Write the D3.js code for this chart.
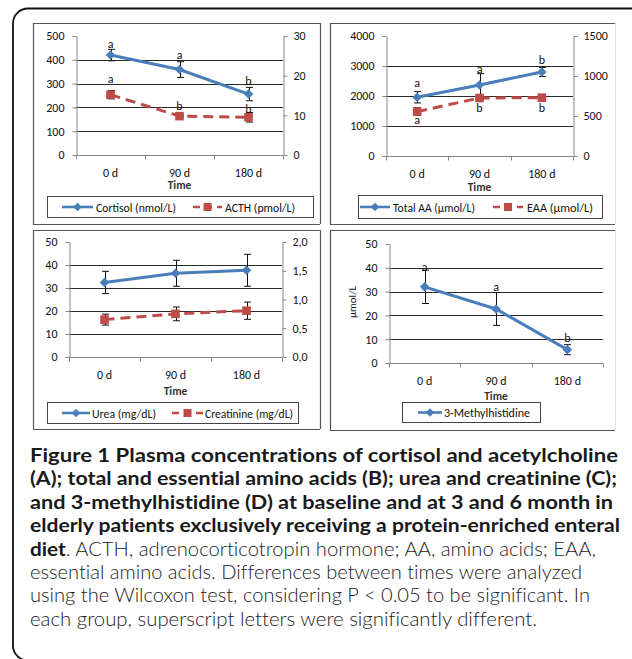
<!DOCTYPE html>
<html><head><meta charset="utf-8">
<script src="https://cdn.jsdelivr.net/npm/d3@7"></script>
<style>
html,body{margin:0;padding:0;background:#fff;}
svg{display:block;}
</style></head>
<body>
<svg id="chart" width="632" height="659"></svg>
<script>
// ---------------- DATA ----------------
const categories = ["0 d", "90 d", "180 d"];

const cortisol = [420, 359, 256];
const cortisolErr = [24, 33, 28];
const cortisolLetters = ["a", "a", "b"];
const cortisolLetterAt = [466, 420, 311];
const acth = [15.2, 9.8, 9.5];
const acthErr = [1.05, 0.3, 1.2];
const acthLetters = ["a", "b", "b"];
const acthLetterAt = [19.2, 12.4, 11.6];
const panelATicksLeft = [0, 100, 200, 300, 400, 500];
const panelATicksRight = [0, 10, 20, 30];

const totalAA = [1957, 2367, 2800];
const totalAAErr = [188, 378, 150];
const totalAALetters = ["a", "a", "b"];
const totalAALetterAt = [2443, 2900, 3200];
const eaa = [555, 725, 729];
const eaaErr = [48, 10, 10];
const eaaLetters = ["a", "b", "b"];
const eaaLetterAt = [450, 600, 600];
const panelBTicksLeft = [0, 1000, 2000, 3000, 4000];
const panelBTicksRight = [0, 500, 1000, 1500];

const urea = [32.4, 36.4, 37.7];
const ureaErr = [4.85, 5.65, 6.95];
const creatinine = [0.65, 0.75, 0.805];
const creatinineErr = [0.095, 0.12, 0.15];
const panelCTicksLeft = [0, 10, 20, 30, 40, 50];
const panelCTicksRight = [0, 0.5, 1, 1.5, 2];
const panelCTickLabelsRight = ["0,0", "0,5", "1,0", "1,5", "2,0"];

const methylhistidine = [32, 22.7, 5.6];
const methylhistidineErr = [7, 6.9, 2.1];
const methylhistidineLetters = ["a", "a", "b"];
const methylhistidineLetterAt = [40.5, 32.1, 10.5];
const panelDTicksLeft = [0, 10, 20, 30, 40, 50];

const captionBold = [
  "Figure 1 Plasma concentrations of cortisol and acetylcholine",
  "(A); total and essential amino acids (B); urea and creatinine (C);",
  "and 3-methylhistidine (D) at baseline and at 3 and 6 month in",
  "elderly patients exclusively receiving a protein-enriched enteral"
];
const captionMixedBold = "diet";
const captionMixedRest = ". ACTH, adrenocorticotropin hormone; AA, amino acids; EAA,";
const captionRegular = [
  "essential amino acids. Differences between times were analyzed",
  "using the Wilcoxon test, considering P < 0.05 to be significant. In",
  "each group, superscript letters were significantly different."
];

// ---------------- STYLE ----------------
const BLUE = "#4A7EBB", RED = "#BE4B48";
const FONT = "Carlito, Calibri, Lato, 'Open Sans', sans-serif";
const TXT = "#111";
const svg = d3.select("#chart");
svg.append("rect").attr("width", 632).attr("height", 659).attr("fill", "#fff");

// outer frame
svg.append("rect").attr("x", 13).attr("y", 8.5).attr("width", 640).attr("height", 652)
  .attr("rx", 15).attr("fill", "none").attr("stroke", "#111").attr("stroke-width", 1.8);

function diamond(g, cx, cy, r, color) {
  g.append("path").attr("d", `M${cx},${cy - r}L${cx + r},${cy}L${cx},${cy + r}L${cx - r},${cy}Z`).attr("fill", color);
}
function square(g, cx, cy, r, color) {
  g.append("rect").attr("x", cx - r).attr("y", cy - r).attr("width", 2 * r).attr("height", 2 * r).attr("fill", color);
}

function drawPanel(cfg) {
  const g = svg.append("g").style("font-family", FONT);
  const [bx0, by0, bx1, by1] = cfg.box;
  g.append("path").attr("d", `M${bx1},${by0 + 0.5}H${bx0 + 0.5}V${by1 + 0.5}H${bx1}`)
    .attr("fill", "none").attr("stroke", "#555").attr("stroke-width", 1.2);
  g.append("line").attr("x1", bx1 + 0.5).attr("x2", bx1 + 0.5).attr("y1", by0).attr("y2", by1)
    .attr("stroke", cfg.rightBorder).attr("stroke-width", 1.2);

  const p = cfg.plot;
  const x = d3.scaleBand().domain(categories).range([p.l, p.r]);
  const yL = d3.scaleLinear().domain(cfg.leftDomain).range([p.b, p.t]);
  const yR = cfg.rightDomain ? d3.scaleLinear().domain(cfg.rightDomain).range([p.b, p.t]) : null;

  g.selectAll(".grid").data(cfg.leftTicks.slice(1, -1)).enter().append("line")
    .attr("x1", p.l).attr("x2", p.r)
    .attr("y1", d => Math.round(yL(d)) + 0.5).attr("y2", d => Math.round(yL(d)) + 0.5)
    .attr("stroke", "#2a2a2a").attr("stroke-width", 1);

  const la = g.append("g").attr("transform", `translate(${Math.round(p.l) + 0.5},0)`)
    .call(d3.axisLeft(yL).tickValues(cfg.leftTicks).tickSize(4).tickSizeOuter(0).tickPadding(8)
      .tickFormat(d3.format("d")));
  let ra = null;
  if (yR) {
    ra = g.append("g").attr("transform", `translate(${Math.round(p.r) + 0.5},0)`)
      .call(d3.axisRight(yR).tickValues(cfg.rightTicks).tickSize(4).tickSizeOuter(0).tickPadding(6)
        .tickFormat((d, i) => cfg.rightLabels ? cfg.rightLabels[i] : d3.format("d")(d)));
  }
  [la, ra].forEach(a => {
    if (!a) return;
    a.select(".domain").attr("stroke", "#868686");
    a.selectAll(".tick line").attr("stroke", "#868686");
    a.selectAll(".tick text").attr("fill", TXT).style("font-size", "12px").style("font-family", FONT);
  });

  const y0 = Math.round(yL(0)) + 0.5;
  g.append("line").attr("x1", p.l).attr("x2", p.r).attr("y1", y0).attr("y2", y0).attr("stroke", "#868686");
  const bounds = categories.map(c => x(c)).concat([x.range()[1]]);
  g.selectAll(".xt").data(bounds).enter().append("line")
    .attr("x1", d => Math.round(d) + 0.5).attr("x2", d => Math.round(d) + 0.5)
    .attr("y1", y0).attr("y2", y0 + 4).attr("stroke", "#868686");
  g.selectAll(".xl").data(categories).enter().append("text")
    .attr("x", d => x(d) + x.bandwidth() / 2).attr("y", y0 + 21)
    .attr("text-anchor", "middle").style("font-size", "12px").attr("fill", TXT).text(d => d);
  g.append("text").attr("x", (p.l + p.r) / 2).attr("y", cfg.timeY)
    .attr("text-anchor", "middle").style("font-size", "11.5px").style("font-weight", "bold").attr("fill", "#333").text("Time");

  if (cfg.yTitle) {
    g.append("text").attr("transform", `translate(${cfg.yTitle.x},${cfg.yTitle.y}) rotate(-90)`)
      .attr("text-anchor", "middle").style("font-size", "11px").attr("fill", TXT).text(cfg.yTitle.text);
  }

  cfg.series.forEach(s => {
    const ys = s.axis === "right" ? yR : yL;
    const cx = i => x(categories[i]) + x.bandwidth() / 2;
    const line = d3.line().x((d, i) => cx(i)).y(d => ys(d));
    g.append("path").attr("d", line(s.values)).attr("fill", "none")
      .attr("stroke", s.color).attr("stroke-width", 3)
      .attr("stroke-dasharray", s.dashed ? "10,6" : null);
    s.values.forEach((v, i) => {
      const e = s.err[i];
      const xc = Math.round(cx(i)) + 0.5;
      const yt = ys(v + e), yb = ys(v - e);
      const eg = g.append("g").attr("stroke", "#111").attr("stroke-width", 1);
      eg.append("line").attr("x1", xc).attr("x2", xc).attr("y1", yt).attr("y2", yb);
      eg.append("line").attr("x1", xc - 3.5).attr("x2", xc + 3.5).attr("y1", yt).attr("y2", yt);
      eg.append("line").attr("x1", xc - 3.5).attr("x2", xc + 3.5).attr("y1", yb).attr("y2", yb);
    });
    s.values.forEach((v, i) => {
      if (s.marker === "diamond") diamond(g, cx(i), ys(v), 4.8, s.color);
      else square(g, cx(i), ys(v), 4.3, s.color);
    });
    if (s.letters) {
      s.letters.forEach((l, i) => {
        g.append("text").attr("x", cx(i)).attr("y", ys(s.letterAt[i]) + 4)
          .attr("text-anchor", "middle").style("font-size", "12px").attr("fill", TXT).text(l);
      });
    }
  });

  const L = cfg.legend;
  g.append("rect").attr("x", L.box[0] + 0.5).attr("y", L.box[1] + 0.5)
    .attr("width", L.box[2] - L.box[0]).attr("height", L.box[3] - L.box[1])
    .attr("fill", "#fff").attr("stroke", "#444").attr("stroke-width", 1);
  const ly = (L.box[1] + L.box[3]) / 2 + 0.5;
  L.items.forEach((it, k) => {
    const s = cfg.series[k];
    g.append("line").attr("x1", it.x0).attr("x2", it.x1).attr("y1", ly).attr("y2", ly)
      .attr("stroke", s.color).attr("stroke-width", 2.6)
      .attr("stroke-dasharray", s.dashed ? "7,5" : null);
    const mx = (it.x0 + it.x1) / 2;
    if (s.marker === "diamond") diamond(g, mx, ly, 4.3, s.color);
    else square(g, mx, ly, 4, s.color);
    g.append("text").attr("x", it.tx).attr("y", ly + 4.5).style("font-size", "12.5px").attr("fill", TXT)
      .attr("textLength", it.tw).attr("lengthAdjust", "spacingAndGlyphs").text(s.name);
  });
}

drawPanel({
  box: [33, 23, 320, 224], rightBorder: "#555",
  plot: { l: 76, r: 283, t: 36, b: 155 },
  leftDomain: [0, 500], leftTicks: panelATicksLeft,
  rightDomain: [0, 30], rightTicks: panelATicksRight,
  timeY: 189,
  series: [
    { name: "Cortisol (nmol/L)", values: cortisol, err: cortisolErr, color: BLUE, marker: "diamond", axis: "left", letters: cortisolLetters, letterAt: cortisolLetterAt },
    { name: "ACTH (pmol/L)", values: acth, err: acthErr, color: RED, marker: "square", dashed: true, axis: "right", letters: acthLetters, letterAt: acthLetterAt }
  ],
  legend: { box: [47, 196, 313, 217], items: [{ x0: 62, x1: 93, tx: 96, tw: 80 }, { x0: 193, x1: 222, tx: 225, tw: 70 }] }
});

drawPanel({
  box: [330, 23, 615, 224], rightBorder: "#e4e4e4",
  plot: { l: 386, r: 573, t: 36, b: 156 },
  leftDomain: [0, 4000], leftTicks: panelBTicksLeft,
  rightDomain: [0, 1500], rightTicks: panelBTicksRight,
  timeY: 191,
  series: [
    { name: "Total AA (µmol/L)", values: totalAA, err: totalAAErr, color: BLUE, marker: "diamond", axis: "left", letters: totalAALetters, letterAt: totalAALetterAt },
    { name: "EAA (µmol/L)", values: eaa, err: eaaErr, color: RED, marker: "square", dashed: true, axis: "right", letters: eaaLetters, letterAt: eaaLetterAt }
  ],
  legend: { box: [358, 195, 602, 218], items: [{ x0: 360, x1: 390, tx: 393, tw: 82 }, { x0: 493, x1: 523, tx: 527, tw: 66 }] }
});

drawPanel({
  box: [33, 230, 320, 429], rightBorder: "#555",
  plot: { l: 69, r: 282, t: 242, b: 357 },
  leftDomain: [0, 50], leftTicks: panelCTicksLeft,
  rightDomain: [0, 2], rightTicks: panelCTicksRight, rightLabels: panelCTickLabelsRight,
  timeY: 395,
  series: [
    { name: "Urea (mg/dL)", values: urea, err: ureaErr, color: BLUE, marker: "diamond", axis: "left" },
    { name: "Creatinine (mg/dL)", values: creatinine, err: creatinineErr, color: RED, marker: "square", dashed: true, axis: "right" }
  ],
  legend: { box: [47, 402, 298, 423], items: [{ x0: 62, x1: 90, tx: 92, tw: 64 }, { x0: 172, x1: 203, tx: 205, tw: 88 }] }
});

drawPanel({
  box: [330, 230, 615, 430], rightBorder: "#e4e4e4",
  plot: { l: 389, r: 603, t: 244, b: 363 },
  leftDomain: [0, 50], leftTicks: panelDTicksLeft,
  timeY: 400,
  yTitle: { x: 356, y: 302, text: "µmol/L" },
  series: [
    { name: "3-Methylhistidine", values: methylhistidine, err: methylhistidineErr, color: BLUE, marker: "diamond", axis: "left", letters: methylhistidineLetters, letterAt: methylhistidineLetterAt }
  ],
  legend: { box: [402, 402, 540, 422], items: [{ x0: 418, x1: 442, tx: 444, tw: 86 }] }
});

// ---------------- CAPTION ----------------
const CAPFONT = "Lato, 'Open Sans', 'Noto Sans', sans-serif";
const cap = svg.append("g").style("font-family", CAPFONT).style("font-variant-ligatures", "none");
const capX = 30, capY0 = 462, capDy = 23.4;
const boldEnds = [618, 617, 613, 620];
const mixedEnd = 596;
const regEnds = [582, 590, 537];

captionBold.forEach((t, i) => {
  cap.append("text").attr("x", capX).attr("y", capY0 + i * capDy)
    .attr("textLength", boldEnds[i] - capX).attr("lengthAdjust", "spacingAndGlyphs")
    .style("font-size", "19.5px").style("font-weight", "bold").attr("fill", "#1a1a1a").text(t);
});
const mixed = cap.append("text").attr("x", capX).attr("y", capY0 + 4 * capDy)
  .attr("textLength", mixedEnd - capX).attr("lengthAdjust", "spacingAndGlyphs");
mixed.append("tspan").style("font-size", "19.5px").style("font-weight", "bold").attr("fill", "#1a1a1a").text(captionMixedBold);
mixed.append("tspan").style("font-size", "19px").style("font-weight", "300").attr("fill", "#222").text(captionMixedRest);
captionRegular.forEach((t, i) => {
  cap.append("text").attr("x", capX).attr("y", capY0 + (5 + i) * capDy)
    .attr("textLength", regEnds[i] - capX).attr("lengthAdjust", "spacingAndGlyphs")
    .style("font-size", "19px").style("font-weight", "300").attr("fill", "#222").text(t);
});
</script>
</body></html>
